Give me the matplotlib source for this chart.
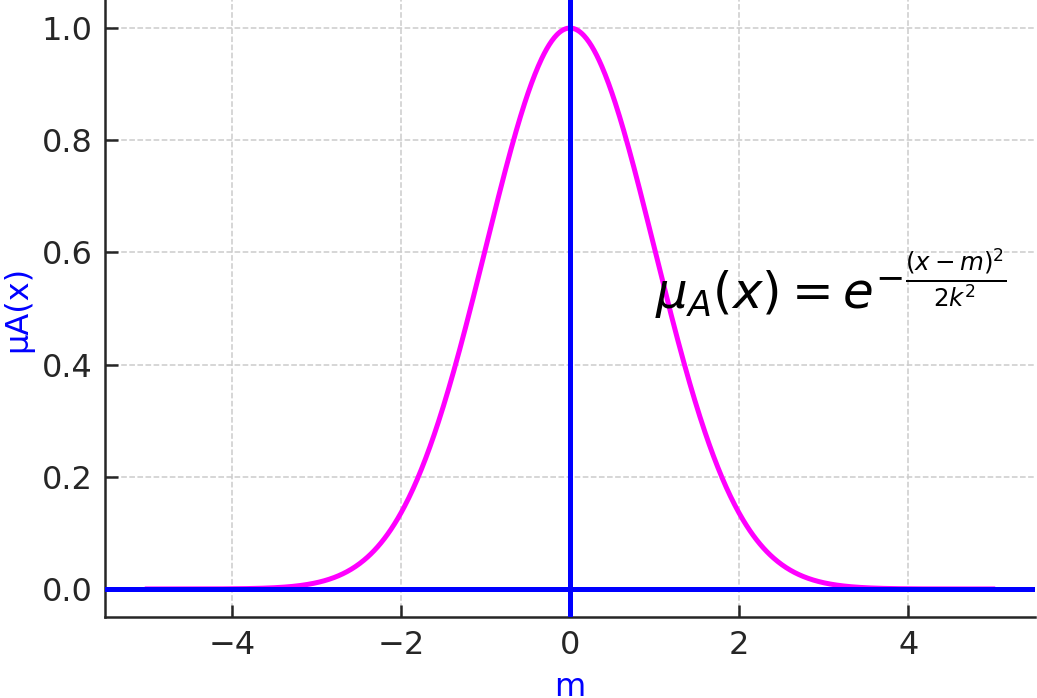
import numpy as np
import matplotlib
matplotlib.use("Agg")
import matplotlib.pyplot as plt

# Gaussian membership function parameters
m_center = 0.0
k_width = 1.0
x_start, x_end = -5.0, 5.0
x_ticks = [-4, -2, 0, 2, 4]
y_ticks = [0.0, 0.2, 0.4, 0.6, 0.8, 1.0]

x = np.linspace(x_start, x_end, 1000)
mu = np.exp(-((x - m_center) ** 2) / (2 * k_width ** 2))

fig = plt.figure(figsize=(10.37, 6.98), dpi=100)
ax = fig.add_axes([105 / 1037, 81 / 698, 930 / 1037, 617 / 698])

ax.plot(x, mu, color="magenta", lw=3.6, zorder=3)
ax.axhline(0, color="blue", lw=3.6, zorder=4)
ax.axvline(0, color="blue", lw=3.6, zorder=4)

ax.set_xlim(-5.5, 5.5)
ax.set_ylim(-0.05, 1.05)
ax.set_xticks(x_ticks)
ax.set_yticks(y_ticks)
ax.set_xticklabels([f"\u2212{abs(t)}" if t < 0 else f"{t}" for t in x_ticks])
ax.set_yticklabels([f"{t:.1f}" for t in y_ticks])

ax.grid(True, linestyle="--", color="#cccccc", lw=1.1)
ax.set_axisbelow(True)
for s in ["top", "right"]:
    ax.spines[s].set_visible(False)
for s in ["left", "bottom"]:
    ax.spines[s].set_color("#262626")
    ax.spines[s].set_linewidth(1.8)

ax.tick_params(axis="both", direction="in", length=9, width=1.8, color="#262626",
               labelsize=23, labelcolor="#262626", pad=9)

ax.set_xlabel("m", color="blue", fontsize=23, labelpad=8)
ax.set_ylabel("μA(x)", color="blue", fontsize=23, labelpad=6)

ax.text(1.0, 0.5, r"$\mu_A(x) = e^{-\frac{(x-m)^2}{2k^2}}$", fontsize=36, color="black", zorder=5)

fig.savefig("out.png", dpi=100)
